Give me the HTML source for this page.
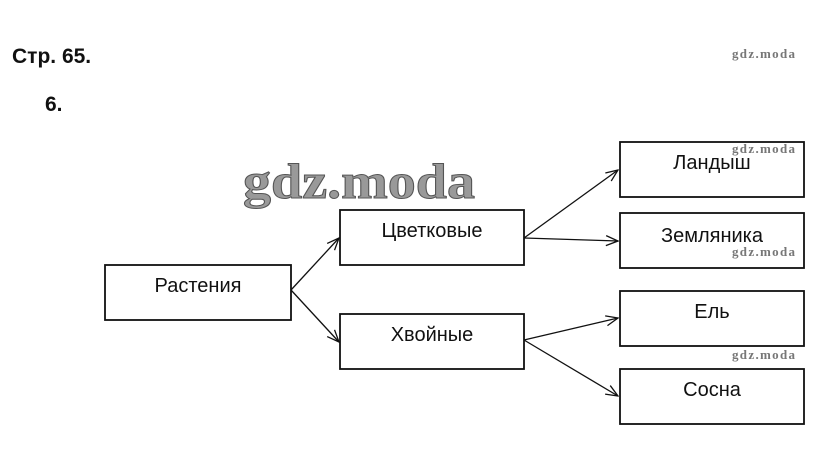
<!DOCTYPE html>
<html><head><meta charset="utf-8"><style>
body{margin:0;background:#fff;width:819px;height:474px;overflow:hidden;position:relative;font-family:"Liberation Sans",sans-serif}
.t{position:absolute;font-weight:bold;font-size:21px;color:#111}
</style></head><body>
<div class="t" style="left:12px;top:45px">Стр. 65.</div>
<div class="t" style="left:45px;top:93px">6.</div>
<svg width="819" height="474" style="position:absolute;left:0;top:0">
<defs><marker id="a" markerWidth="14" markerHeight="12" refX="13" refY="6" orient="auto" markerUnits="userSpaceOnUse"><path d="M1,1 L13,6 L1,11" fill="none" stroke="#111" stroke-width="1.3"/></marker></defs>
<text x="243" y="198" font-family="Liberation Serif,serif" font-size="50" font-weight="bold" fill="#999" stroke="#555" stroke-width="1" textLength="232" lengthAdjust="spacingAndGlyphs">gdz.moda</text>
<g fill="none" stroke="#111" stroke-width="1.8">
<rect x="105" y="265" width="186" height="55"/>
<rect x="340" y="210" width="184" height="55"/>
<rect x="340" y="314" width="184" height="55"/>
<rect x="620" y="142" width="184" height="55"/>
<rect x="620" y="213" width="184" height="55"/>
<rect x="620" y="291" width="184" height="55"/>
<rect x="620" y="369" width="184" height="55"/>
</g>
<g stroke="#111" stroke-width="1.3" marker-end="url(#a)">
<line x1="291" y1="290" x2="339" y2="238"/>
<line x1="291" y1="290" x2="339" y2="342"/>
<line x1="524" y1="238" x2="618" y2="170"/>
<line x1="524" y1="238" x2="618" y2="241"/>
<line x1="524" y1="340" x2="618" y2="318"/>
<line x1="524" y1="340" x2="618" y2="396"/>
</g>
<g font-family="Liberation Sans,sans-serif" font-size="20" fill="#111" text-anchor="middle">
<text x="198" y="292">Растения</text>
<text x="432" y="237">Цветковые</text>
<text x="432" y="341">Хвойные</text>
<text x="712" y="169">Ландыш</text>
<text x="712" y="242">Земляника</text>
<text x="712" y="318">Ель</text>
<text x="712" y="396">Сосна</text>
</g>
<g font-family="Liberation Serif,serif" font-size="13" font-weight="bold" fill="#777">
<text x="732" y="58" textLength="63">gdz.moda</text>
<text x="732" y="153" textLength="63">gdz.moda</text>
<text x="732" y="256" textLength="63">gdz.moda</text>
<text x="732" y="359" textLength="63">gdz.moda</text>
</g>
</svg>
</body></html>
